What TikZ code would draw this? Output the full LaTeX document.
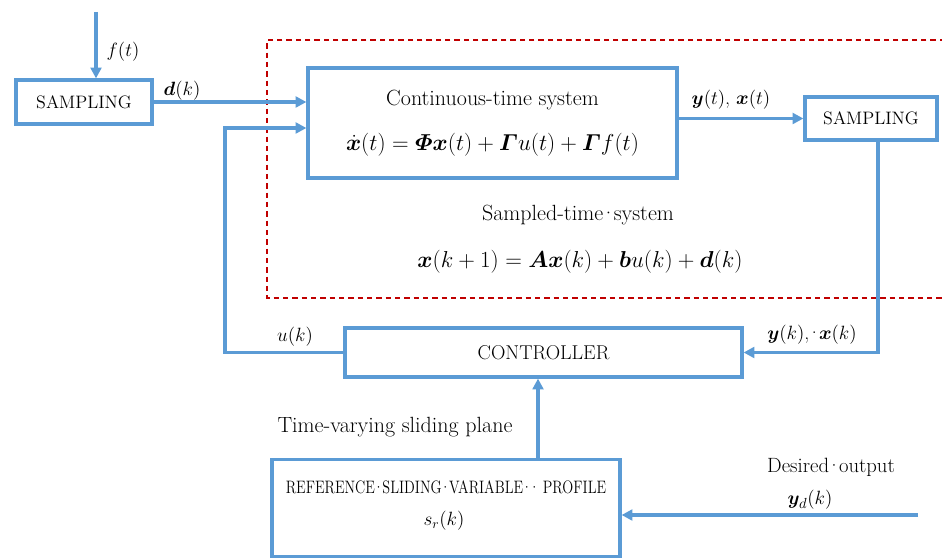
\documentclass[tikz,border=0pt]{standalone}
\usepackage{amsmath,bm,graphicx}
\usetikzlibrary{arrows.meta}
\definecolor{lineblue}{RGB}{91,155,213}
\definecolor{dashred}{RGB}{192,0,0}
\newcommand\mdt{\kern-0.12em·\kern-0.12em}
\tikzset{
  blk/.style={draw=lineblue, line width=2.4pt, fill=white, inner sep=0pt, font=\fontsize{13.5}{16}\selectfont},
  conn/.style={draw=lineblue, line width=2.4pt},
  arr/.style={conn, -{Triangle[length=8pt,width=8pt]}},
  lbl/.style={inner sep=0pt, font=\fontsize{15}{18}\selectfont},
  txt/.style={inner sep=0pt, font=\fontsize{16.5}{19}\selectfont},
  eqn/.style={inner sep=0pt, font=\fontsize{17}{20}\selectfont},
}
\begin{document}
\begin{tikzpicture}[x=0.75pt,y=-0.75pt]
\useasboundingbox (0,0) rectangle (942,559);
% dashed sampled-time region
\draw[dashred, line width=0.9pt, dash pattern=on 4pt off 3pt] (945,40) -- (267,40) -- (267,298) -- (945,298);
% blocks
\node[blk, minimum width=102pt, minimum height=33pt] (sampL) at (84,102) {SAMPLING};
\node[blk, minimum width=276.75pt, minimum height=82.5pt, align=center, font=\fontsize{16.5}{19}\selectfont] (cts) at (492.5,123)
  {Continuous-time system\\[15pt]{\fontsize{17}{20}\selectfont$\dot{\bm x}(t)=\bm{\varPhi}\bm x(t)+\bm{\varGamma} u(t)+\bm{\varGamma} f(t)$}};
\node[blk, minimum width=99pt, minimum height=32.25pt] (sampR) at (871,118.5) {SAMPLING};
\node[blk, minimum width=297.75pt, minimum height=36.75pt, font=\fontsize{15}{18}\selectfont] (ctrl) at (543.5,352.5) {CONTROLLER};
\node[blk, minimum width=261pt, minimum height=72.75pt] (ref) at (446,508) {};
\node[inner sep=0pt, font=\fontsize{13.5}{16}\selectfont] (reftitle) at (446,487)
  {\scalebox{0.8}[1]{REFERENCE\mdt SLIDING\mdt VARIABLE\mdt\mdt{} PROFILE}};
\node[inner sep=0pt, font=\fontsize{14}{17}\selectfont] (sr) at (444,521) {$s_r(k)$};
% sampled-time system texts
\node[txt] (sampledtitle) at (578,215) {Sampled-time\mdt system};
\node[eqn] (sampledeq) at (580,262) {$\bm x(k+1)=\bm A\bm x(k)+\bm b u(k)+\bm d(k)$};
% coordinates
\coordinate (ftop) at (96,12);
\coordinate (uleft) at (225,128);
\coordinate (sv) at (538,0);
\coordinate (ydin) at (918,515);
\coordinate (ydown) at (878,0);
% connectors
\draw[arr] (ftop) -- (ftop |- sampL.north);
\draw[arr] (sampL.east) -- (cts.west |- sampL.east);
\draw[arr] (ctrl.west) -| (uleft) -- (cts.west |- uleft);
\draw[arr] (cts.east |- sampR.west) -- (sampR.west);
\draw[arr] (ydown |- sampR.south) |- (ctrl.east);
\draw[arr] (sv |- ref.north) -- (sv |- ctrl.south);
\draw[arr] (ydin) -- (ref.east |- ydin);
% labels
\node[lbl] (lf) at (123,52) {$f(t)$};
\node[lbl] (ld) at (182,91) {$\bm d(k)$};
\node[lbl] (lyx) at (731,100) {$\bm y(t)$, $\bm x(t)$};
\node[lbl] (lu) at (295,337) {$u(k)$};
\node[lbl] (lyk) at (812,335) {$\bm y(k)$,\mdt$\bm x(k)$};
\node[txt] (ltv) at (395,427) {Time-varying sliding plane};
\node[txt, font=\fontsize{15.5}{18}\selectfont] (ldes) at (831,467) {Desired\mdt output};
\node[lbl] (lyd) at (810,500) {$\bm y_d(k)$};
\end{tikzpicture}
\end{document}
